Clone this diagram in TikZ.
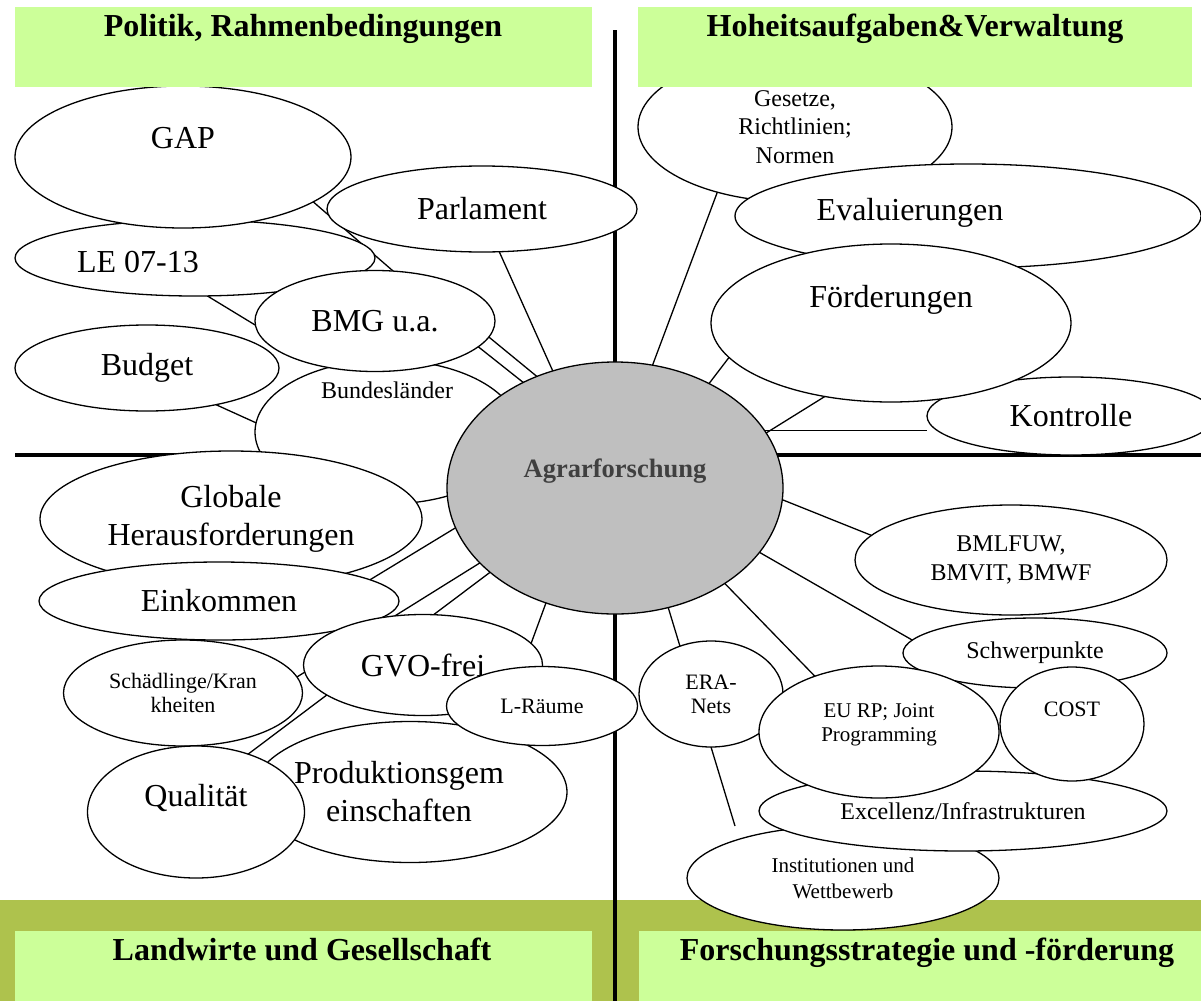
\documentclass[tikz,border=0pt]{standalone}
\usepackage{fontspec}
\setmainfont{Liberation Serif}
\usetikzlibrary{shapes.geometric}

\definecolor{boxgreen}{RGB}{204,255,153}
\definecolor{bandolive}{RGB}{174,194,77}
\definecolor{coregray}{RGB}{191,191,191}
\definecolor{coretext}{RGB}{64,64,64}

\pgfdeclarelayer{background}
\pgfsetlayers{background,main}

\begin{document}
\begin{tikzpicture}[
        x=1pt, y=-1pt,
        blob/.style 2 args = {draw, ellipse, fill=white, line width=1.3pt, inner sep=0pt, outer sep=0pt, align=center, minimum width=#1, minimum height=#2},
        core/.style   = {blob={336pt}{252pt}, fill=coregray},
        big/.style    = {font=\fontsize{32pt}{38pt}\selectfont, align=center},
        mid/.style    = {font=\fontsize{24pt}{28.5pt}\selectfont, align=center},
        small/.style  = {font=\fontsize{22pt}{24pt}\selectfont, align=center},
        tiny/.style   = {font=\fontsize{21pt}{26pt}\selectfont, align=center},
        head/.style   = {font=\bfseries\fontsize{32pt}{38pt}\selectfont, anchor=base},
        headbox/.style = {fill=boxgreen, inner sep=0pt, anchor=north west},
        link/.style   = {line width=1.3pt},
        divider/.style = {line width=3.5pt}]

        \useasboundingbox (0,0) rectangle (1201,1001);

        % Politik, Rahmenbedingungen (top left)
        \node[blob={360pt}{76pt}] (le) at (195,258) {};
        \node[big] (le-t) at ([xshift=-57pt, yshift=-4pt]le.center) {LE 07-13};
        \node[blob={336pt}{142pt}] (gap) at (183,157) {};
        \node[big] (gap-t) at ([yshift=19pt]gap.center) {GAP};
        \node[blob={310pt}{86pt}, big] (parl) at (482,209) {Parlament};
        \node[blob={264pt}{144pt}] (bund) at (387,432) {};
        \node[mid] (bund-t) at ([yshift=42pt]bund.center) {Bundesländer};
        \node[blob={264pt}{86pt}, big] (budget) at (147,368) {Budget};
        \node[blob={240pt}{101pt}, big] (bmg) at (375,321) {BMG u.a.};

        % Landwirte und Gesellschaft (bottom left)
        \node[blob={382pt}{136pt}, big] (glob) at (231,519) {Globale\\Herausforderungen};
        \node[blob={360pt}{78pt}, big] (eink) at (219,601) {Einkommen};
        \node[blob={239pt}{106pt}, small] (schaed) at (183,693) {Schädlinge/Kran\\kheiten};
        \node[blob={239pt}{101pt}, big] (gvo) at (423,665) {GVO-frei};
        \node[blob={314pt}{141pt}] (prod) at (410,792) {};
        \node[big] (prod-t) at ([xshift=-11pt]prod.center) {Produktionsgem\\einschaften};
        \node[blob={191pt}{79pt}, small] (lraum) at (542,706) {L-Räume};
        \node[blob={217pt}{132pt}] (qual) at (196,812) {};
        \node[big] (qual-t) at ([yshift=14pt]qual.center) {Qualität};

        % Hoheitsaufgaben und Verwaltung (top right)
        \node[blob={314pt}{150pt}, mid] (ges) at (795,127) {Gesetze,\\Richtlinien;\\Normen};
        \node[blob={466pt}{104pt}] (eval) at (968,216) {};
        \node[big] (eval-t) at ([xshift=-58pt, yshift=3pt]eval.center) {Evaluierungen};
        \node[blob={288pt}{78pt}, big] (kontr) at (1071,416) {Kontrolle};
        \node[blob={360pt}{158pt}] (foerd) at (891,323) {};
        \node[big] (foerd-t) at ([yshift=23pt]foerd.center) {Förderungen};

        % Forschungsstrategie und -foerderung (bottom right)
        \node[blob={312pt}{104pt}, tiny] (inst) at (843,878) {Institutionen und\\Wettbewerb};
        \node[blob={408pt}{80pt}, mid] (exc) at (963,811) {Excellenz/Infrastrukturen};
        \node[blob={312pt}{110pt}, mid] (bml) at (1011,560) {BMLFUW,\\BMVIT, BMWF};
        \node[blob={264pt}{70pt}, mid] (schw) at (1035,653) {Schwerpunkte};
        \node[blob={144pt}{106pt}, small] (era) at (711,694) {ERA-\\Nets};
        \node[blob={240pt}{132pt}] (eurp) at (879,732) {};
        \node[tiny, font=\fontsize{21pt}{24pt}\selectfont] (eurp-t) at ([yshift=7pt]eurp.center) {EU RP; Joint\\Programming};
        \node[blob={144pt}{114pt}] (cost) at (1072,724) {};
        \node[small] (cost-t) at ([yshift=15pt]cost.center) {COST};

        % the centre
        \node[core] (agrar) at (615,488) {};
        \node[font=\bfseries\fontsize{26.5pt}{32pt}\selectfont, text=coretext] (agrar-t) at (615,471) {Agrarforschung};

        \coordinate (era-end) at (735,826);

        % band, quadrant lines and links behind the ellipses
        \begin{pgfonlayer}{background}
            \fill[bandolive] (0,900) rectangle (1201,1001);
            \draw[divider] (615,30) -- (615,1001);
            \draw[divider] (15,455) -- (1201,455);

            \foreach \from/\to in {gap.-19/bmg.70, le.-72/bmg.182, budget.-28/bund.176,
                    parl.-68/agrar.118, bmg.-8/agrar.125, bmg.-14/agrar.131}
            \draw[link] (\from) -- (\to);

            \foreach \from/\to in {ges.220/agrar.73, foerd.192/agrar.48, foerd.228/agrar.20}
            \draw[link] (\from) -- (\to);
            \draw[link] (agrar.21) -- (agrar.21 -| kontr.west);

            \foreach \from/\to in {agrar.-4/bml.170, agrar.-24/schw.174, agrar.-41/eurp.139,
                    agrar.-66/era.123, era.-90/era-end}
            \draw[link] (\from) -- (\to);

            \foreach \from/\to in {agrar.194/eink.8, agrar.209/schaed.8,
                    agrar.214/qual.48, agrar.239/lraum.117}
            \draw[link] (\from) -- (\to);
        \end{pgfonlayer}

        % title boxes
        \node[headbox, minimum width=577pt, minimum height=80pt] (box-tl) at (15,7) {};
        \node[headbox, minimum width=554pt, minimum height=80pt] (box-tr) at (638,7) {};
        \node[headbox, minimum width=577pt, minimum height=70pt] (box-bl) at (15,931) {};
        \node[headbox, minimum width=562pt, minimum height=70pt] (box-br) at (639,931) {};

        \node[head] (head-tl) at (303,36) {Politik, Rahmenbedingungen};
        \node[head] (head-tr) at (915,36) {Hoheitsaufgaben\&Verwaltung};
        \node[head] (head-bl) at (302,960) {Landwirte und Gesellschaft};
        \node[head] (head-br) at (927,960) {Forschungsstrategie und -förderung};

\end{tikzpicture}
\end{document}
